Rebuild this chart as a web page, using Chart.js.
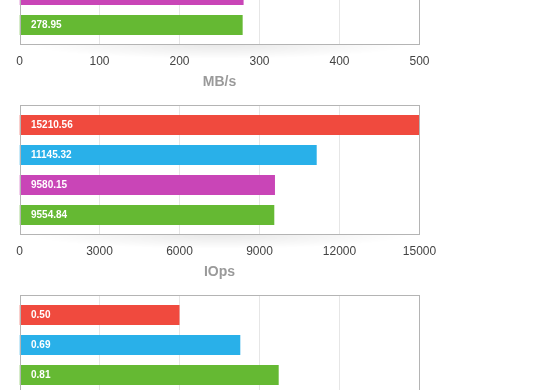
<!DOCTYPE html>
<html>
<head>
<meta charset="utf-8">
<title>Benchmark</title>
<script src="https://cdn.jsdelivr.net/npm/chart.js@4"></script>
<style>
  html, body { margin: 0; padding: 0; background: #fff; overflow: hidden; }
  #wrap { position: relative; width: 560px; height: 390px; overflow: hidden; }
  .box { position: absolute; left: 0; width: 560px; height: 190px; }
</style>
</head>
<body>
<div id="wrap">
  <div class="box" style="top:-95px"><canvas id="mbChart"></canvas></div>
  <div class="box" style="top:95px"><canvas id="iopsChart"></canvas></div>
  <div class="box" style="top:285px"><canvas id="latChart"></canvas></div>
</div>
<script>
const RED = "#f04a3e", BLUE = "#29b0e9", MAGENTA = "#c945b7", GREEN = "#65b933";

// throughput (top, only the last two bars are in view)
const mbLabels = ["Drive A", "Drive B", "Drive C", "Drive D"];
const mbValues = [452.30, 331.64, 280.12, 278.95];
const mbColors = [RED, BLUE, MAGENTA, GREEN];
const mbTicks = [0, 100, 200, 300, 400, 500];

// iops (middle)
const iopsLabels = ["Drive A", "Drive B", "Drive C", "Drive D"];
const iopsValues = [15210.56, 11145.32, 9580.15, 9554.84];
const iopsColors = [RED, BLUE, MAGENTA, GREEN];
const iopsTicks = [0, 3000, 6000, 9000, 12000, 15000];

// latency (bottom, cut off)
const latLabels = ["Drive A", "Drive B", "Drive D", "Drive C"];
const latValues = [0.50, 0.69, 0.81, 0.83];
const latColors = [RED, BLUE, GREEN, MAGENTA];
const latTicks = [0, 0.25, 0.5, 0.75, 1, 1.25];

const FONT = "'Liberation Sans', Arial, Helvetica, sans-serif";

const framePlugin = {
  id: "frame",
  beforeDraw(chart) {
    const { ctx, chartArea: a } = chart;
    const bottom = a.bottom + 4.5;
    // soft shadow under the box
    ctx.save();
    ctx.translate((a.left + a.right) / 2, bottom);
    ctx.scale(1, 0.075);
    const g = ctx.createRadialGradient(0, 0, 0, 0, 0, 190);
    g.addColorStop(0, "rgba(0,0,0,0.09)");
    g.addColorStop(1, "rgba(0,0,0,0)");
    ctx.fillStyle = g;
    ctx.fillRect(-200, 0, 400, 200);
    ctx.restore();
  },
  beforeDatasetsDraw(chart) {
    const { ctx, chartArea: a, scales } = chart;
    const x = scales.x;
    ctx.save();
    ctx.strokeStyle = "#e6e6e6";
    ctx.lineWidth = 1;
    x.ticks.forEach((t, i) => {
      if (i === 0 || i === x.ticks.length - 1) return;
      const px = Math.floor(x.getPixelForValue(t.value)) + 0.5;
      ctx.beginPath();
      ctx.moveTo(px, a.top - 4.5);
      ctx.lineTo(px, a.bottom + 4.5);
      ctx.stroke();
    });
    ctx.restore();
  },
  afterDatasetsDraw(chart) {
    const { ctx, chartArea: a } = chart;
    ctx.save();
    ctx.strokeStyle = "#b4b4b4";
    ctx.lineWidth = 1;
    const l = Math.round(a.left) + 0.5;
    const r = Math.floor(a.right) + 0.5;
    ctx.strokeRect(l, a.top - 4.5, r - l, a.bottom - a.top + 9);

    // value labels inside the bars
    const meta = chart.getDatasetMeta(0);
    const data = chart.data.datasets[0].data;
    ctx.fillStyle = "#fff";
    ctx.font = "bold 10px " + FONT;
    ctx.textBaseline = "middle";
    ctx.textAlign = "left";
    meta.data.forEach((bar, i) => {
      ctx.fillText(data[i].toFixed(2), bar.base + 11.5, bar.y + 0.5);
    });
    ctx.restore();
  },
};

function makeChart(id, labels, values, colors, ticks, title) {
  return new Chart(document.getElementById(id), {
    type: "bar",
    data: {
      labels: labels,
      datasets: [{
        data: values,
        backgroundColor: colors,
        borderWidth: 0,
        barPercentage: 20 / 30,
        categoryPercentage: 1,
      }],
    },
    options: {
      indexAxis: "y",
      responsive: true,
      maintainAspectRatio: false,
      animation: false,
      layout: { padding: { left: 19.5, right: 140.5, top: 15, bottom: 2 } },
      scales: {
        x: {
          min: ticks[0],
          max: ticks[ticks.length - 1],
          afterBuildTicks: (scale) => { scale.ticks = ticks.map((v) => ({ value: v })); },
          afterFit: (scale) => { scale.height = 53; },
          grid: { display: false, drawTicks: false },
          border: { display: false },
          ticks: {
            color: "#444",
            padding: 14.5,
            font: { family: FONT, size: 12 },
            maxRotation: 0,
            callback: (v) => String(v),
          },
          title: {
            display: true,
            text: title,
            color: "#9a9a9a",
            font: { family: FONT, size: 14, weight: "bold" },
            padding: { top: 5, bottom: 2.5 },
          },
        },
        y: { display: false },
      },
      plugins: { legend: { display: false }, tooltip: { enabled: false } },
    },
    plugins: [framePlugin],
  });
}

makeChart("mbChart", mbLabels, mbValues, mbColors, mbTicks, "MB/s");
makeChart("iopsChart", iopsLabels, iopsValues, iopsColors, iopsTicks, "IOps");
makeChart("latChart", latLabels, latValues, latColors, latTicks, "ms");
</script>
</body>
</html>
